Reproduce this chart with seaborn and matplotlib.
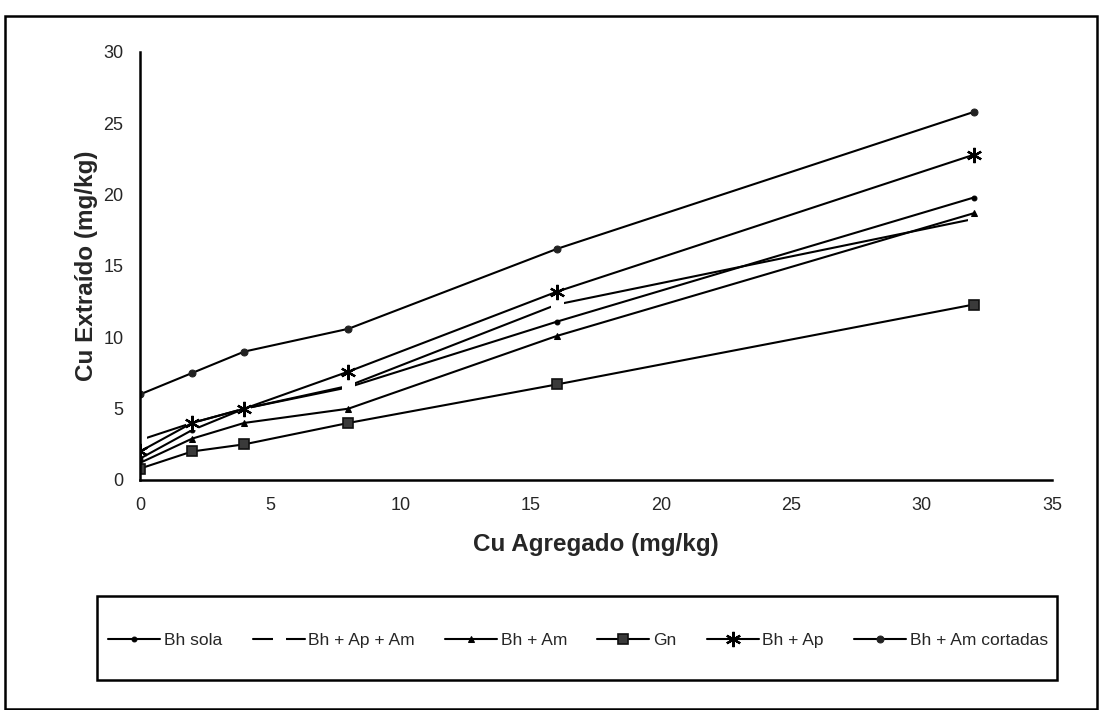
import matplotlib
matplotlib.use("Agg")
import matplotlib.pyplot as plt
from matplotlib.patches import Rectangle
import seaborn as sns
import pandas as pd

# ---- data ----
cu_agregado = [0, 2, 4, 8, 16, 32]
bh_sola = [1.5, 3.5, 5.0, 6.5, 11.1, 19.8]
bh_ap_am = [2.8, 4.0, 5.0, 6.6, 12.3, 18.3]
bh_am = [1.2, 2.9, 4.0, 5.0, 10.1, 18.7]
gn = [0.8, 2.0, 2.5, 4.0, 6.7, 12.3]
bh_ap = [2.0, 4.0, 5.0, 7.6, 13.2, 22.8]
bh_am_cortadas = [6.0, 7.5, 9.0, 10.6, 16.2, 25.8]

series_names = ["Bh sola", "Bh + Ap + Am", "Bh + Am", "Gn", "Bh + Ap", "Bh + Am cortadas"]
series_values = [bh_sola, bh_ap_am, bh_am, gn, bh_ap, bh_am_cortadas]

x_ticks = [0, 5, 10, 15, 20, 25, 30, 35]
y_ticks = [0, 5, 10, 15, 20, 25, 30]

sns.set_style("white")
plt.rcParams["font.family"] = ["Liberation Sans", "DejaVu Sans"]

fig = plt.figure(figsize=(11.03, 7.10), dpi=100)
ax = fig.add_axes([140 / 1103, 1 - 480 / 710, (1052 - 140) / 1103, (480 - 52) / 710])

styles = {
    "Bh sola": dict(marker="o", markersize=3.5, markerfacecolor="black", markeredgecolor="black"),
    "Bh + Ap + Am": dict(marker="s", markersize=8, markerfacecolor="white", markeredgecolor="white"),
    "Bh + Am": dict(marker="^", markersize=4.5, markerfacecolor="black", markeredgecolor="black"),
    "Gn": dict(marker="s", markersize=6.5, markerfacecolor="#3a3a3a", markeredgecolor="#111111", markeredgewidth=1.2),
    "Bh + Ap": dict(marker=(6, 2, 0), markersize=11, markeredgewidth=1.6, markeredgecolor="black"),
    "Bh + Am cortadas": dict(marker="o", markersize=5, markerfacecolor="#222222", markeredgecolor="#222222"),
}

for name, vals in zip(series_names, series_values):
    df = pd.DataFrame({"x": cu_agregado, "y": vals})
    sns.lineplot(data=df, x="x", y="y", ax=ax, color="black", linewidth=1.5,
                 label=name, legend=False, **styles[name])

ax.set_xlim(0, 35)
ax.set_ylim(0, 30)
ax.set_xticks(x_ticks)
ax.set_yticks(y_ticks)
ax.tick_params(axis="both", labelsize=13, direction="out", length=4, width=1, color="black")
ax.tick_params(axis="x", pad=8)
ax.tick_params(axis="y", pad=8)
for s in ["top", "right"]:
    ax.spines[s].set_visible(False)
for s in ["left", "bottom"]:
    ax.spines[s].set_color("black")
    ax.spines[s].set_linewidth(1.8)
ax.set_xlabel("Cu Agregado (mg/kg)", fontsize=17.5, fontweight="bold", labelpad=14)
ax.set_ylabel("Cu Extraído (mg/kg)", fontsize=17.5, fontweight="bold", labelpad=4)

# outer border and legend box
fig.patches.append(Rectangle((5 / 1103, 0.002), (1097 - 5) / 1103, (705 - 12) / 710,
                             transform=fig.transFigure, fill=False, edgecolor="black", linewidth=1.8))
fig.patches.append(Rectangle((97 / 1103, 1 - 680 / 710), (1057 - 97) / 1103, (680 - 596) / 710,
                             transform=fig.transFigure, fill=False, edgecolor="black", linewidth=1.8))

handles, labels = ax.get_legend_handles_labels()
fig.legend(handles, labels, loc="center", bbox_to_anchor=(578 / 1103, 1 - 640 / 710),
           ncol=6, frameon=False, fontsize=12.5, handlelength=3.0, handletextpad=0.2,
           columnspacing=1.75, borderpad=0)

fig.savefig("out.png", dpi=100, facecolor="white")
